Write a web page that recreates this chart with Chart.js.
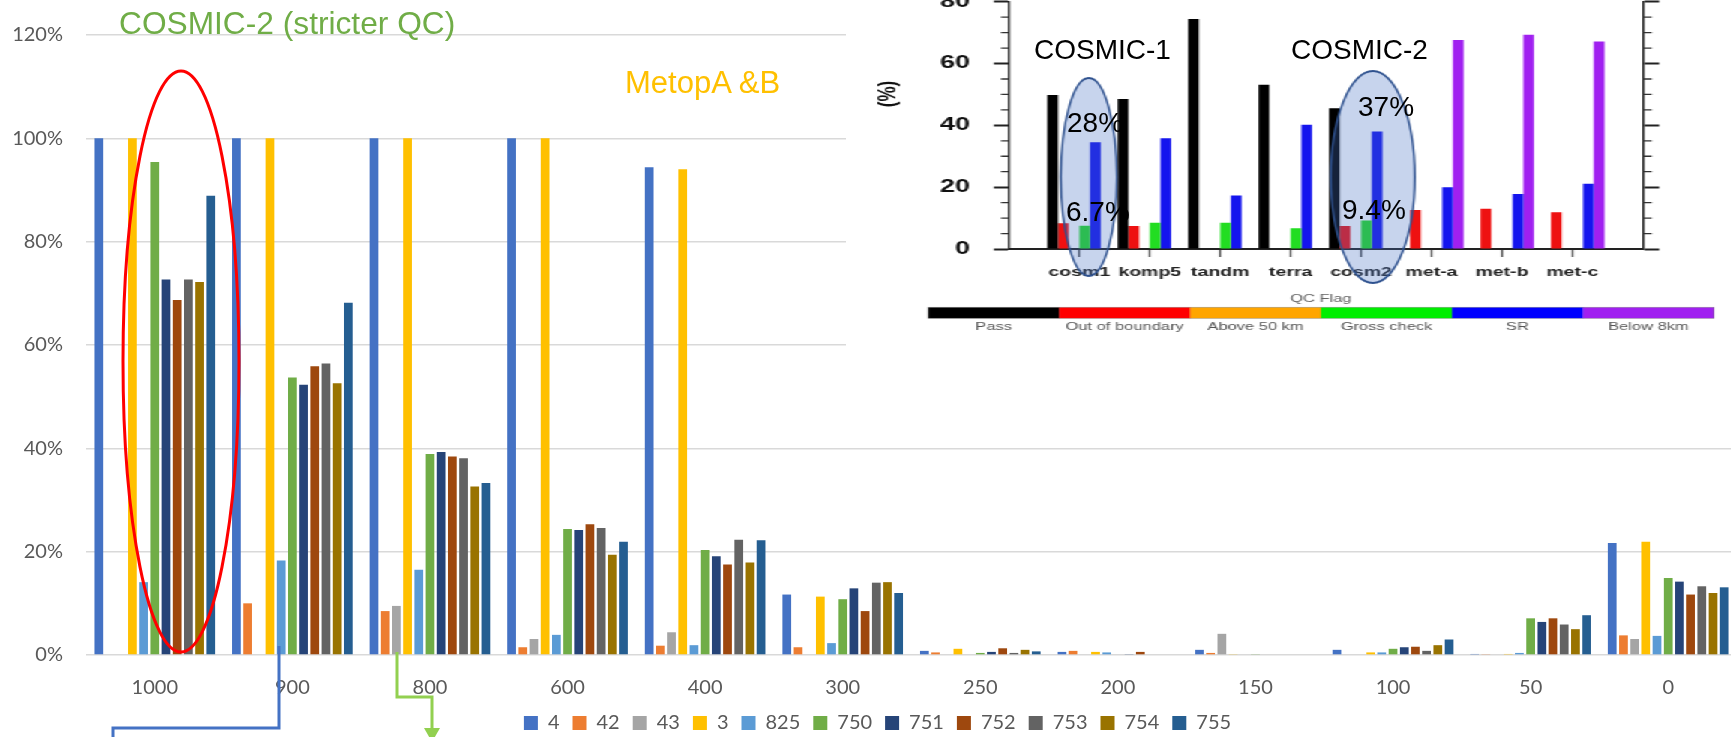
<!DOCTYPE html>
<html>
<head>
<meta charset="utf-8">
<title>QC rejection by pressure level</title>
<script src="https://cdn.jsdelivr.net/npm/chart.js@4.4.1/dist/chart.umd.min.js"></script>
<style>
  html, body { margin: 0; padding: 0; background: #fff; overflow: hidden; width: 1731px; height: 737px; }
  #wrap { position: relative; width: 1731px; height: 737px; overflow: hidden; }
  #main { position: absolute; left: 0; top: 0; }
  #insetBox { position: absolute; left: 846px; top: 0; width: 590px; height: 395px; background: #fff;
              transform: scaleX(1.5); transform-origin: 0 0; }
  .note { position: absolute; white-space: nowrap; line-height: 1; font-family: "Liberation Sans", Arial, sans-serif; }
</style>
</head>
<body>
<div id="wrap">
  <canvas id="main" width="1737" height="737"></canvas>
  <div id="insetBox"><canvas id="inset" width="590" height="395"></canvas></div>
  <div class="note" style="left:119px;top:8px;font-size:31.7px;color:#70AD47">COSMIC-2 (stricter QC)</div>
  <div class="note" style="left:625px;top:67px;font-size:31px;color:#FFC000">MetopA &amp;B</div>
  <div class="note" style="left:1034px;top:36px;font-size:28px;color:#000">COSMIC-1</div>
  <div class="note" style="left:1291px;top:36px;font-size:28px;color:#000">COSMIC-2</div>
  <div class="note" style="left:1067px;top:109px;font-size:28px;color:#000">28%</div>
  <div class="note" style="left:1358px;top:93px;font-size:28px;color:#000">37%</div>
  <div class="note" style="left:1066px;top:198px;font-size:28px;color:#000">6.7%</div>
  <div class="note" style="left:1342px;top:196px;font-size:28px;color:#000">9.4%</div>
</div>
<script>
// main chart: share of rejected obs per pressure level (hPa), one series per satellite id
const levels = ['1000', '900', '800', '600', '400', '300', '250', '200', '150', '100', '50', '0'];
const seriesNames = ['4', '42', '43', '3', '825', '750', '751', '752', '753', '754', '755'];
const yTicks = [0, 20, 40, 60, 80, 100, 120];

const s4   = [100, 100, 100, 100, 94.4, 11.7, 0.8, 0.6, 1.0, 1.0, 0.2, 21.7];
const s42  = [0, 10.0, 8.5, 1.5, 1.8, 1.5, 0.5, 0.8, 0.4, 0, 0.1, 3.8];
const s43  = [0, 0, 9.5, 3.1, 4.4, 0, 0, 0, 4.1, 0, 0, 3.1];
const s3   = [100, 100, 100, 100, 94.0, 11.3, 1.2, 0.6, 0.1, 0.5, 0.2, 21.9];
const s825 = [14.1, 18.3, 16.5, 3.9, 1.9, 2.3, 0, 0.5, 0, 0.5, 0.4, 3.7];
const s750 = [95.4, 53.7, 38.9, 24.4, 20.3, 10.8, 0.4, 0, 0.1, 1.2, 7.1, 14.9];
const s751 = [72.7, 52.3, 39.3, 24.2, 19.1, 12.9, 0.6, 0.1, 0, 1.5, 6.4, 14.2];
const s752 = [68.7, 55.9, 38.4, 25.3, 17.5, 8.5, 1.3, 0.6, 0, 1.6, 7.1, 11.7];
const s753 = [72.7, 56.4, 38.1, 24.6, 22.3, 14.0, 0.4, 0, 0, 0.8, 5.9, 13.3];
const s754 = [72.2, 52.6, 32.6, 19.4, 17.9, 14.1, 1.0, 0, 0, 1.9, 5.0, 12.0];
const s755 = [88.9, 68.2, 33.3, 21.9, 22.2, 12.0, 0.7, 0, 0, 3.0, 7.7, 13.1];

// inset: QC flag percentages per mission
const qcSites = ['cosm1', 'komp5', 'tandm', 'terra', 'cosm2', 'met-a', 'met-b', 'met-c'];
const qcFlags = ['Pass', 'Out of boundary', 'Above 50 km', 'Gross check', 'SR', 'Below 8km'];
const qcPass  = [49.8, 48.5, 74.4, 53.1, 45.5, 0, 0, 0];
const qcOut   = [8.3, 7.4, 0, 0, 7.4, 12.6, 13.0, 11.9];
const qcAbove = [0, 0, 0, 0, 0, 0, 0, 0];
const qcGross = [7.5, 8.5, 8.5, 6.7, 9.2, 0, 0, 0];
const qcSR    = [34.5, 35.8, 17.3, 40.2, 38.0, 20.0, 17.8, 21.1];
const qcBelow = [0, 0, 0, 0, 0, 67.6, 69.3, 67.1];
const qcTicks = [0, 20, 40, 60, 80];

const mainColors = ['#4472C4', '#ED7D31', '#A5A5A5', '#FFC000', '#5B9BD5', '#70AD47',
                    '#264478', '#9E480E', '#636363', '#997300', '#255E91'];
const qcBarColors = ['#000000', '#ee1111', '#ffa500', '#22dd22', '#1414ee', '#a020f0'];
const qcBandColors = ['#000000', '#ff0000', '#ffa500', '#00ee00', '#0000ff', '#a020f0'];

const mainSeries = [s4, s42, s43, s3, s825, s750, s751, s752, s753, s754, s755];
const ui = "Lato, 'Open Sans', sans-serif";
const helv = "'Liberation Sans', Arial, sans-serif";

// red ring around the 1000 hPa group and the two connector lines
const mainNotes = {
  id: 'mainNotes',
  afterLayout(chart) {
    // let the y labels use the space left of the scale box (label clip area starts at scale.left)
    chart.scales.y.left = 0;
  },
  afterDraw(chart) {
    const ctx = chart.ctx;
    ctx.save();
    ctx.strokeStyle = '#ff0000';
    ctx.lineWidth = 3;
    ctx.beginPath();
    ctx.ellipse(181, 361.5, 58, 290.5, 0, 0, Math.PI * 2);
    ctx.stroke();

    ctx.strokeStyle = '#4472C4';
    ctx.lineWidth = 3;
    ctx.beginPath();
    ctx.moveTo(279, 646); ctx.lineTo(279, 728); ctx.lineTo(113, 728); ctx.lineTo(113, 745);
    ctx.stroke();

    ctx.strokeStyle = '#92D050';
    ctx.fillStyle = '#92D050';
    ctx.beginPath();
    ctx.moveTo(397, 652); ctx.lineTo(397, 697); ctx.lineTo(432, 697); ctx.lineTo(432, 729);
    ctx.stroke();
    ctx.beginPath();
    ctx.moveTo(424, 728); ctx.lineTo(440, 728); ctx.lineTo(432, 742); ctx.closePath();
    ctx.fill();
    ctx.restore();
  }
};

new Chart(document.getElementById('main'), {
  type: 'bar',
  data: {
    labels: levels,
    datasets: seriesNames.map((name, i) => ({
      label: name,
      data: mainSeries[i],
      backgroundColor: mainColors[i],
      borderWidth: 0,
      barPercentage: 0.78,
      categoryPercentage: 0.895
    }))
  },
  options: {
    responsive: false,
    animation: false,
    events: [],
    layout: { padding: { left: 18, top: 33, right: 0, bottom: -6 } },
    plugins: {
      tooltip: { enabled: false },
      legend: {
        position: 'bottom',
        labels: { boxWidth: 14, boxHeight: 14, padding: 13, color: '#595959', font: { family: ui, size: 20 } }
      }
    },
    scales: {
      x: {
        grid: { display: false, drawTicks: false },
        border: { display: false },
        ticks: { color: '#595959', font: { family: ui, size: 20 }, padding: 21, maxRotation: 0, autoSkip: false },
        afterFit: s => { s.height = 45; }
      },
      y: {
        min: 0, max: 120,
        afterBuildTicks: s => { s.ticks = yTicks.map(v => ({ value: v })); },
        ticks: { callback: v => v + '%', color: '#595959', font: { family: ui, size: 20 }, padding: 23 },
        grid: { color: '#d9d9d9', lineWidth: 1.4, drawTicks: false },
        border: { display: false },
        afterFit: s => { s.width = 68; }
      }
    }
  },
  plugins: [mainNotes]
});

// inset decorations: minor ticks, blue rings, colour key
const insetNotes = {
  id: 'insetNotes',
  afterDatasetsDraw(chart) {
    const ctx = chart.ctx;
    ctx.save();
    ctx.scale(1 / 1.5, 1);      // undo the horizontal stretch so rings keep their shape
    ctx.fillStyle = 'rgba(68,114,196,0.3)';
    ctx.strokeStyle = '#2F528F';
    ctx.lineWidth = 2;
    [[243, 177, 28, 99], [527, 177, 42, 106]].forEach(([cx, cy, rx, ry]) => {
      ctx.beginPath();
      ctx.ellipse(cx, cy, rx, ry, 0, 0, Math.PI * 2);
      ctx.fill();
      ctx.stroke();
    });
    ctx.restore();
  },
  afterDraw(chart) {
    const ctx = chart.ctx;
    const { y, yR } = chart.scales;
    ctx.save();
    ctx.strokeStyle = '#333';
    ctx.lineWidth = 1.3;
    for (let v = 5; v < 80; v += 5) {
      if (v % 20 === 0) continue;
      const py = y.getPixelForValue(v);
      ctx.beginPath();
      ctx.moveTo(y.right - 5.3, py); ctx.lineTo(y.right, py);
      ctx.moveTo(yR.left, py); ctx.lineTo(yR.left + 6, py);
      ctx.stroke();
    }

    // (%) axis title
    ctx.fillStyle = '#111';
    ctx.font = 'bold 17px ' + helv;
    ctx.textAlign = 'center';
    ctx.textBaseline = 'middle';
    ctx.save();
    ctx.translate(28.5, 94);
    ctx.rotate(-Math.PI / 2);
    ctx.fillText('(%)', 0, 0);
    ctx.restore();

    // colour key
    const x0 = 54.9, x1 = 578.7, w = (x1 - x0) / qcFlags.length;
    qcFlags.forEach((f, i) => {
      ctx.fillStyle = qcBandColors[i];
      ctx.fillRect(x0 + i * w, 307.3, w + 0.3, 11);
    });
    ctx.strokeStyle = 'rgba(120,120,120,0.6)';
    ctx.lineWidth = 0.7;
    ctx.strokeRect(x0, 307.3, x1 - x0, 11);
    ctx.fillStyle = '#555';
    ctx.font = '11px ' + helv;
    qcFlags.forEach((f, i) => ctx.fillText(f, x0 + (i + 0.5) * w, 327));
    ctx.fillStyle = '#666';
    ctx.fillText('QC Flag', 316.7, 299);
    ctx.restore();
  }
};

const qcSeries = [qcPass, qcOut, qcAbove, qcGross, qcSR, qcBelow];

new Chart(document.getElementById('inset'), {
  type: 'bar',
  data: {
    datasets: qcFlags.map((f, k) => ({
      label: f,
      data: qcSeries[k].map((v, i) => ({ x: i, y: v })),
      backgroundColor: qcBarColors[k],
      borderWidth: 0,
      barPercentage: 1.0,
      categoryPercentage: 0.91
    }))
  },
  options: {
    responsive: false,
    animation: false,
    events: [],
    layout: { padding: { left: 0, top: 1.7, right: 0, bottom: 0 } },
    plugins: { legend: { display: false }, tooltip: { enabled: false } },
    scales: {
      x: {
        type: 'linear', min: -1, max: 8, offset: false,
        afterBuildTicks: s => { s.ticks = qcSites.map((_, i) => ({ value: i })); },
        ticks: { callback: v => qcSites[v] ?? '', color: '#222', font: { family: helv, size: 13, weight: 'bold' },
                 padding: 8, maxRotation: 0, autoSkip: false },
        grid: { offset: false, drawOnChartArea: false, tickLength: 8, tickColor: '#555', tickWidth: 1.3 },
        border: { color: '#222', width: 2 },
        afterFit: s => { s.height = 146; s.paddingLeft = 0; s.paddingRight = 0; }
      },
      y: {
        min: 0, max: 80,
        afterBuildTicks: s => { s.ticks = qcTicks.map(v => ({ value: v })); },
        ticks: { color: '#111', font: { family: helv, size: 18, weight: 'bold' }, padding: 16 },
        grid: { drawOnChartArea: false, tickLength: 10, tickColor: '#222', tickWidth: 2 },
        border: { color: '#222', width: 1.4 },
        afterFit: s => { s.width = 108.7; s.paddingTop = 0; s.paddingBottom = 0; }
      },
      yR: {
        position: 'right', min: 0, max: 80,
        afterBuildTicks: s => { s.ticks = qcTicks.map(v => ({ value: v })); },
        ticks: { display: false },
        grid: { drawOnChartArea: false, tickLength: 11, tickColor: '#222', tickWidth: 2 },
        border: { color: '#222', width: 1.4 },
        afterFit: s => { s.width = 58.7; s.paddingTop = 0; s.paddingBottom = 0; }
      }
    }
  },
  plugins: [insetNotes]
});
</script>
</body>
</html>
